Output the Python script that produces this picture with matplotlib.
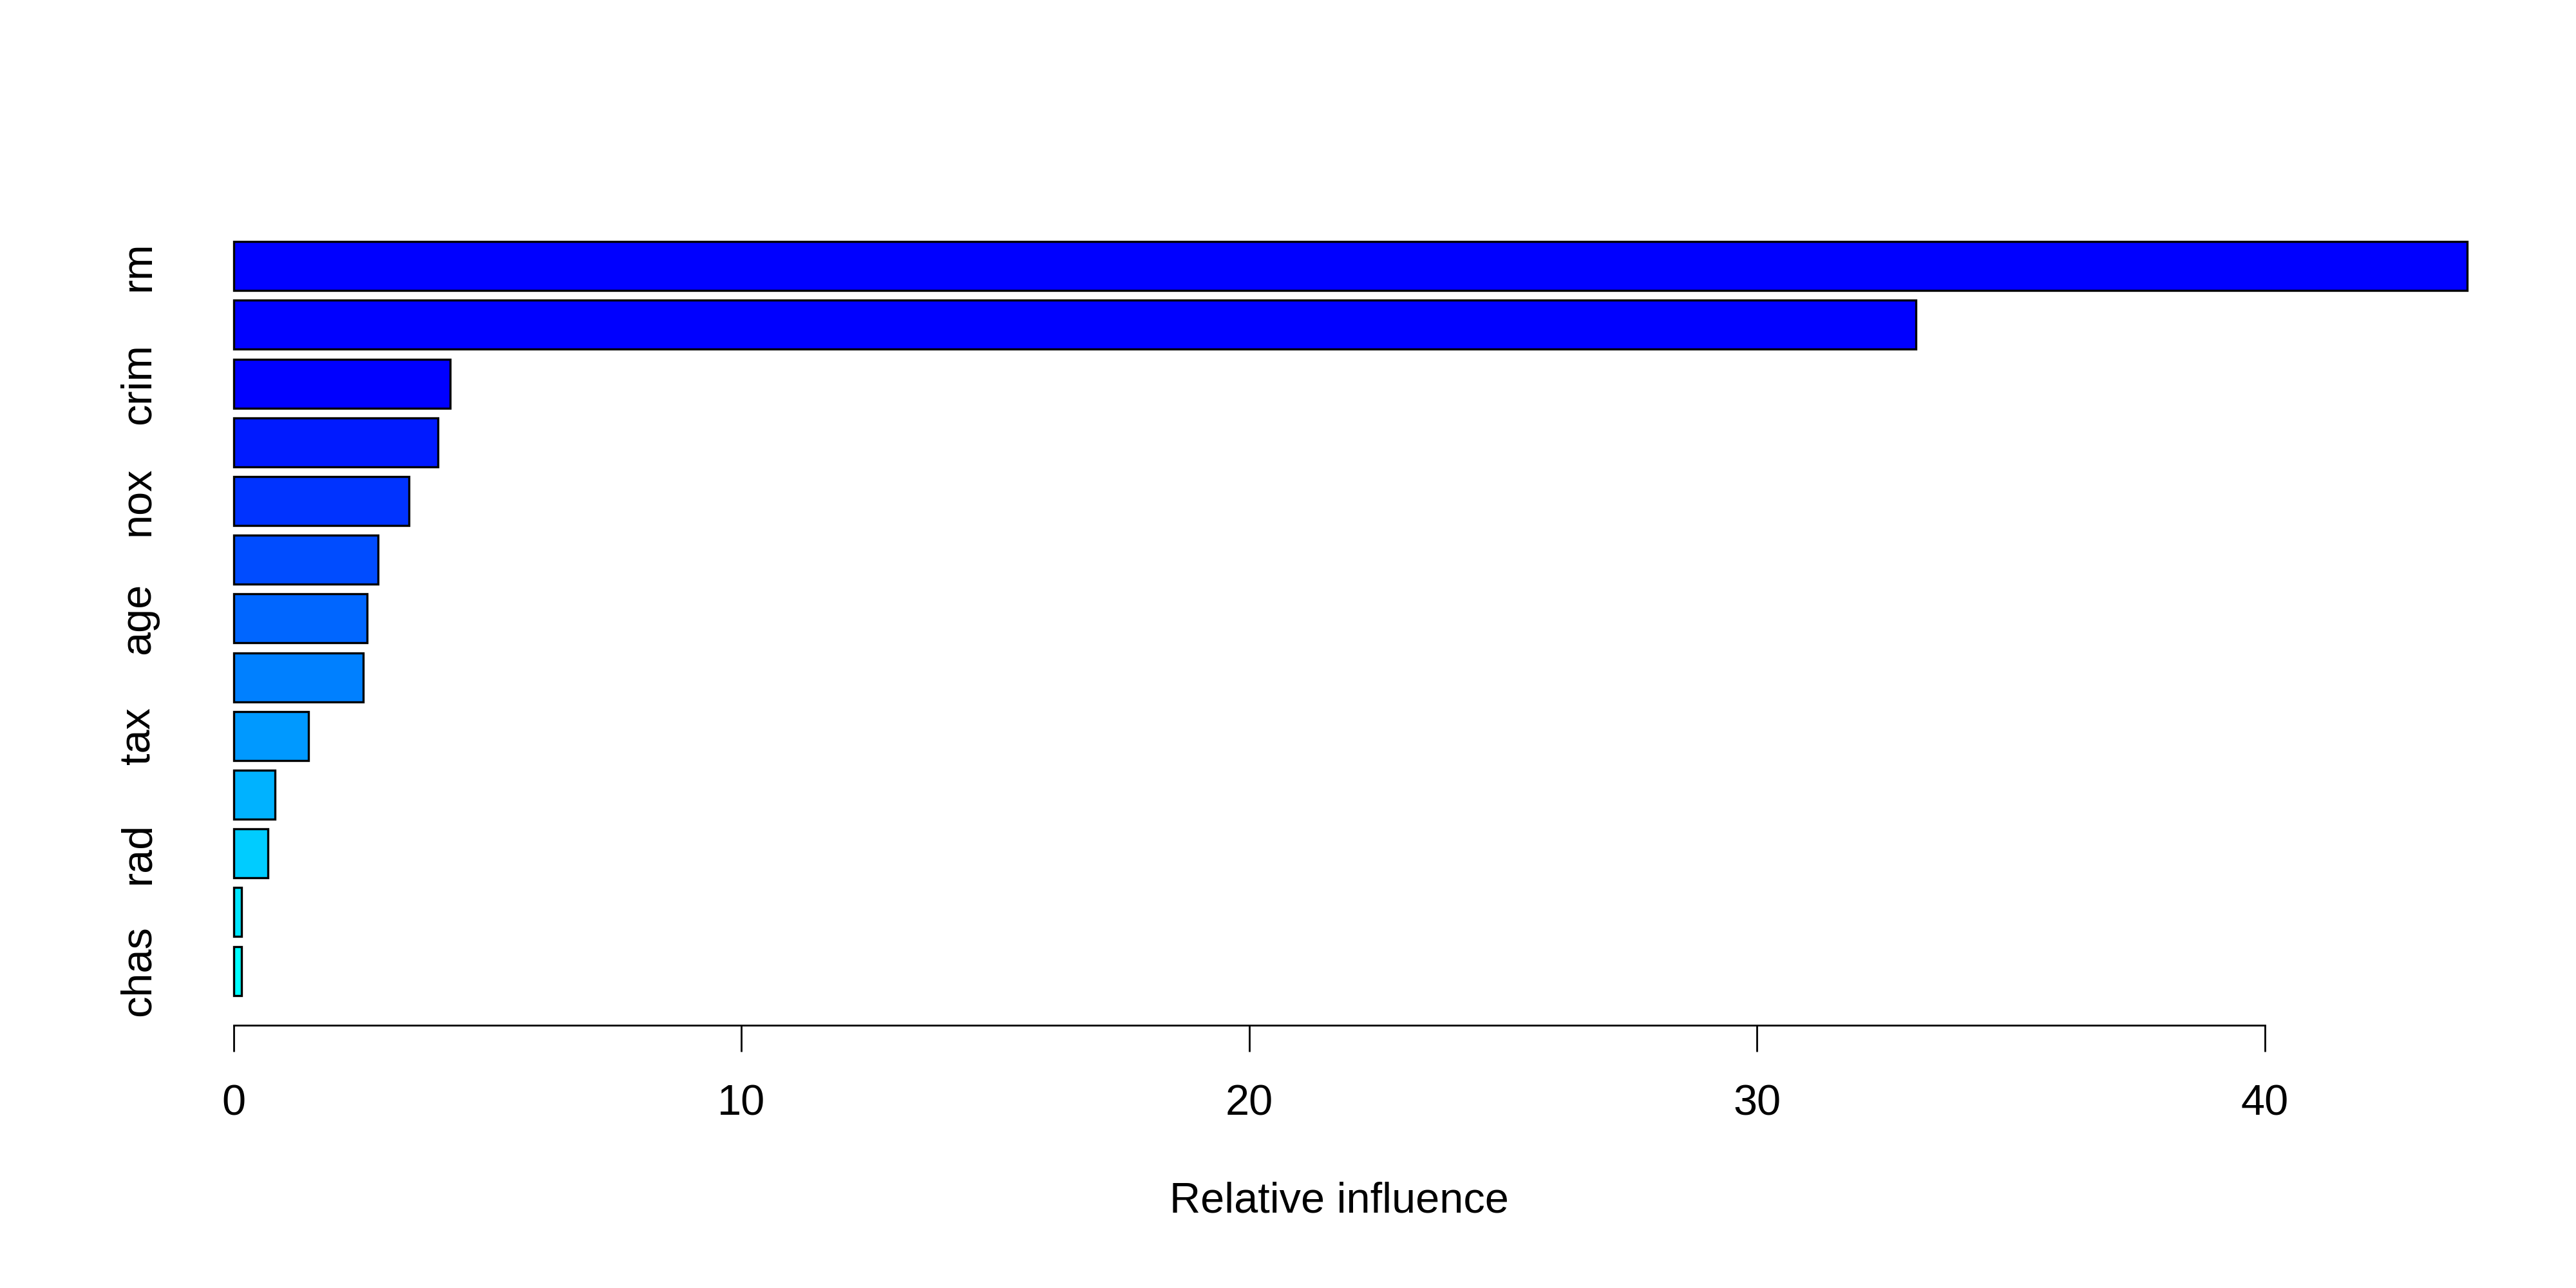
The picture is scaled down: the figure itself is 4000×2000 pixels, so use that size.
import numpy as np
import matplotlib
matplotlib.use("Agg")
import matplotlib.pyplot as plt
from matplotlib.colors import hsv_to_rgb

plt.rcParams['font.family'] = ['Liberation Sans', 'DejaVu Sans']

# relative influence, from largest to smallest (gbm summary)
variables = ['rm', 'lstat', 'crim', 'dis', 'nox', 'ptratio', 'age',
             'black', 'tax', 'indus', 'rad', 'zn', 'chas']
rel_inf = [43.98, 33.13, 4.27, 4.02, 3.45, 2.84, 2.63,
           2.55, 1.47, 0.82, 0.67, 0.16, 0.16]
x_ticks = [0, 10, 20, 30, 40]

# barplot draws the smallest at the bottom
vals = np.array(rel_inf[::-1])
names = variables[::-1]
n = len(vals)

# cyan -> blue, the top three bars are all pure blue in the picture
hues = np.concatenate([np.linspace(3 / 6, 4 / 6, n - 2), [4 / 6, 4 / 6]])
colors = [hsv_to_rgb((h, 1, 1)) for h in hues]

pos = 0.7 + 1.2 * np.arange(n)

fig = plt.figure(figsize=(20, 10), dpi=200)
ax = fig.add_axes([0.047, 0.2038, 0.9457, 0.632])

ax.barh(pos, vals, height=1.0, color=colors, edgecolor='black', linewidth=1.2)

# R style limits: 4% extension of the data range
lo, hi = -0.01 * vals.max(), vals.max()
ext = 0.04 * (hi - lo)
ax.set_xlim(lo - ext, hi + ext)
ylo, yhi = 0.2, 1.2 * n
yext = 0.04 * (yhi - ylo)
ax.set_ylim(ylo - yext, yhi + yext)

for s in ['top', 'right', 'left']:
    ax.spines[s].set_visible(False)
ax.spines['bottom'].set_bounds(x_ticks[0], x_ticks[-1])
ax.spines['bottom'].set_linewidth(1.0)

ax.set_xticks(x_ticks)
ax.set_xticklabels([str(t) for t in x_ticks])
ax.tick_params(axis='x', length=14.8, width=1.0, pad=18, labelsize=24)

# R drops every other name because they would overlap
ax.set_yticks(pos[::2])
ax.set_yticklabels(names[::2], rotation=90, va='center')
ax.tick_params(axis='y', length=0, pad=-21, labelsize=24)

ax.set_xlabel('Relative influence', fontsize=24, labelpad=32)

fig.savefig('out.png', dpi=200, facecolor='white')
